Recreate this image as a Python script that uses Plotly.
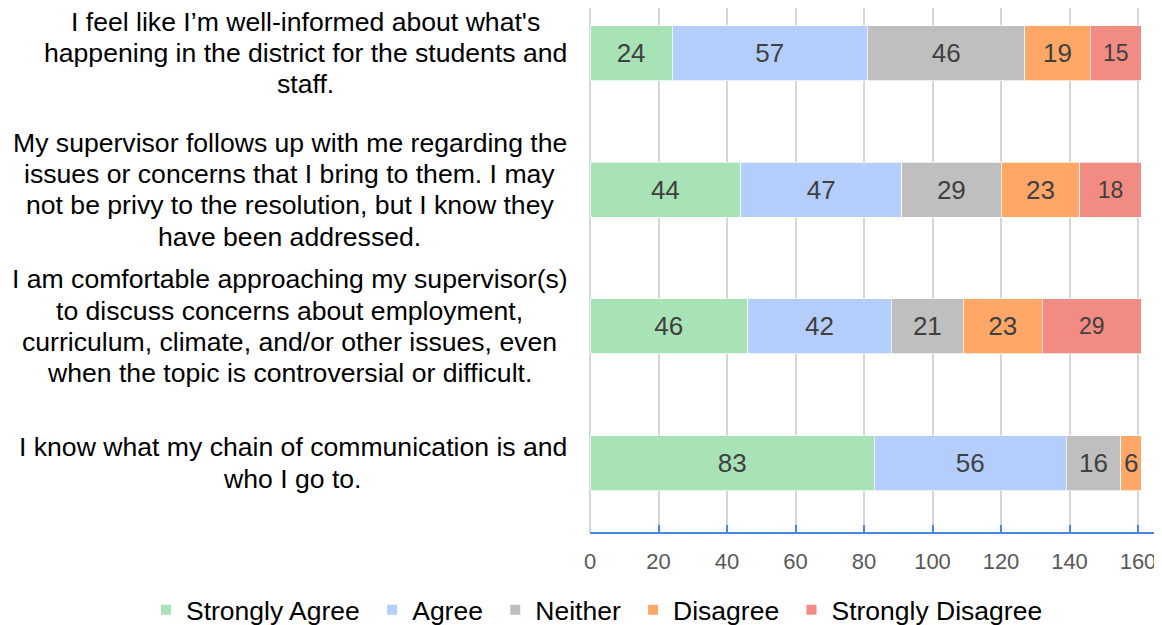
import plotly.graph_objects as go

# ---- data ----
categories = [
    "I feel like I’m well-informed about what's happening in the district for the students and staff.",
    "My supervisor follows up with me regarding the issues or concerns that I bring to them. I may not be privy to the resolution, but I know they have been addressed.",
    "I am comfortable approaching my supervisor(s) to discuss concerns about employment, curriculum, climate, and/or other issues, even when the topic is controversial or difficult.",
    "I know what my chain of communication is and who I go to.",
]
category_lines = [
    ["I feel like I’m well-informed about what's",
     "happening in the district for the students and",
     "staff."],
    ["My supervisor follows up with me regarding the",
     "issues or concerns that I bring to them. I may",
     "not be privy to the resolution, but I know they",
     "have been addressed."],
    ["I am comfortable approaching my supervisor(s)",
     "to discuss concerns about employment,",
     "curriculum, climate, and/or other issues, even",
     "when the topic is controversial or difficult."],
    ["I know what my chain of communication is and",
     "who I go to."],
]
series_names = ["Strongly Agree", "Agree", "Neither", "Disagree", "Strongly Disagree"]
strongly_agree = [24, 44, 46, 83]
agree = [57, 47, 42, 56]
neither = [46, 29, 21, 16]
disagree = [19, 23, 23, 6]
strongly_disagree = [15, 18, 29, None]
series_values = [strongly_agree, agree, neither, disagree, strongly_disagree]
x_ticks = [0, 20, 40, 60, 80, 100, 120, 140, 160]

# ---- style ----
colors = ["#A8E3B8", "#B3CEFA", "#BFBFBF", "#FFA766", "#F28B82"]
label_sizes = [26, 26, 26, 26, 23]
FONT = "Liberation Sans, Arial, sans-serif"
# the page body adds an 8px offset; figure sized to fill the rest of the window
W, H = 1154, 617
ML, MB = 582, 93
PLOT_BOTTOM = H - MB
plot_w = W - ML
plot_h = H - MB
PX_PER_UNIT = 3.425
BAND = 136.67
first_center, last_center = 45, 455
label_center_px = [297, 281.5, 281.5, 284.5]
line_gap = 31.3
legend_left_px = 138
legend_center_y = 602
LEGEND_PAD = "\u00a0"

fig = go.Figure()
for name, vals, col, fs in zip(series_names, series_values, colors, label_sizes):
    fig.add_trace(go.Bar(
        y=list(range(len(categories))), x=vals, name=name + LEGEND_PAD, orientation="h",
        marker=dict(color=col, line=dict(width=0.7, color="#FFFFFF")),
        texttemplate="%{x}", textposition="inside", insidetextanchor="middle",
        textangle=0, constraintext="none",
        insidetextfont=dict(family=FONT, size=fs, color="#404040"),
        hoverinfo="skip",
    ))

annotations = []
for i, lines in enumerate(category_lines):
    n = len(lines)
    for j, ln in enumerate(lines):
        annotations.append(dict(
            text=ln, xref="paper", yref="y",
            x=(label_center_px[i] - ML) / plot_w, y=i,
            xanchor="center", yanchor="middle",
            yshift=-(j - (n - 1) / 2) * line_gap,
            showarrow=False, font=dict(family=FONT, size=26.6, color="#000000"),
        ))

fig.update_layout(
    width=W, height=H, barmode="stack", bargap=1 - 55 / BAND,
    margin=dict(l=ML, r=0, t=0, b=MB, pad=0, autoexpand=False),
    paper_bgcolor="white", plot_bgcolor="white",
    font=dict(family=FONT),
    annotations=annotations,
    legend=dict(
        orientation="h", xref="paper", yref="paper",
        x=(legend_left_px - ML) / plot_w, y=(PLOT_BOTTOM - legend_center_y) / plot_h,
        xanchor="left", yanchor="middle",
        font=dict(family=FONT, size=26.5, color="#000000"),
        traceorder="normal", itemsizing="constant",
        bgcolor="rgba(0,0,0,0)",
    ),
    showlegend=True,
)
fig.update_xaxes(
    automargin=False,
    range=[0, plot_w / PX_PER_UNIT], tickvals=x_ticks, ticktext=[str(t) for t in x_ticks],
    showgrid=True, gridcolor="#D6D6D6", gridwidth=1.6,
    zeroline=True, zerolinecolor="#D6D6D6", zerolinewidth=1.6,
    showline=True, linecolor="#4A86E8", linewidth=2,
    ticks="inside", ticklen=7, tickwidth=2, tickcolor="#4A86E8",
    tickfont=dict(family=FONT, size=22, color="#595959"),
    ticklabelstandoff=9,
)
fig.update_yaxes(
    automargin=False,
    range=[3 + (PLOT_BOTTOM - last_center) / BAND, -first_center / BAND],
    showgrid=False, zeroline=False, showline=False, showticklabels=False, ticks="",
)

fig.write_html("out.html")
